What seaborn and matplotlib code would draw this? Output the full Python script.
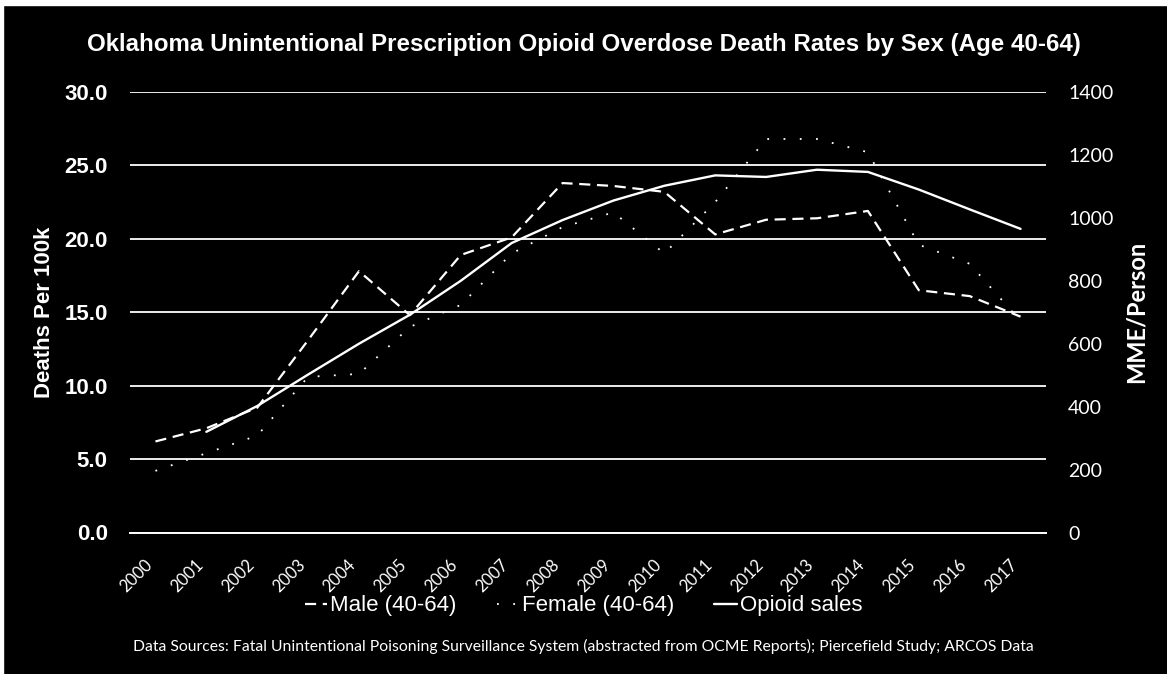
import matplotlib
matplotlib.use("Agg")
import matplotlib.pyplot as plt
from matplotlib.ticker import FixedLocator
import pandas as pd
import seaborn as sns

# Death rates per 100k, age 40-64
years = list(range(2000, 2018))
male_rate = [6.2, 7.1, 8.5, 13.1, 17.8, 14.8, 18.9, 20.1, 23.8, 23.6,
             23.2, 20.3, 21.3, 21.4, 21.9, 16.5, 16.1, 14.7]
female_rate = [4.2, 5.4, 6.6, 10.6, 10.8, 14.0, 15.5, 19.0, 20.8, 21.8,
               19.0, 22.5, 26.8, 26.8, 25.9, 19.6, 18.3, 14.4]

# Opioid sales, MME per person
sales_years = list(range(2001, 2018))
opioid_mme = [320, 402, 502, 600, 692, 800, 920, 993, 1055, 1102,
              1135, 1130, 1153, 1146, 1090, 1027, 965]

left_ticks = [0, 5, 10, 15, 20, 25, 30]
right_ticks = [0, 200, 400, 600, 800, 1000, 1200, 1400]

title = "Oklahoma Unintentional Prescription Opioid Overdose Death Rates by Sex (Age 40-64)"
source_note = ("Data Sources: Fatal Unintentional Poisoning Surveillance System "
               "(abstracted from OCME Reports); Piercefield Study; ARCOS Data")

rates = pd.DataFrame({"year": years, "male": male_rate, "female": female_rate})
sales = pd.DataFrame({"year": sales_years, "mme": opioid_mme})

sns.set_theme(style="dark")
plt.rcParams.update({
    "figure.facecolor": "black",
    "axes.facecolor": "black",
    "savefig.facecolor": "black",
    "text.color": "white",
    "axes.labelcolor": "white",
    "xtick.color": "white",
    "ytick.color": "white",
})
plt.rcParams["font.family"] = ["Liberation Sans", "DejaVu Sans"]
humanist = ["Lato", "DejaVu Sans"]

W, H = 1167, 674
fig = plt.figure(figsize=(W / 100, H / 100), dpi=100)

# thin light frame along the top and left edges
fig.patches.append(plt.Rectangle((0, 1 - 5 / H), 1, 5 / H, transform=fig.transFigure,
                                 color="white", zorder=0))
fig.patches.append(plt.Rectangle((0, 0), 3 / W, 1, transform=fig.transFigure,
                                 color="white", zorder=0))

ax = fig.add_axes([130 / W, 1 - 532.5 / H, (1046 - 130) / W, (532.5 - 92) / H])
ax.set_facecolor("black")

sns.lineplot(data=rates, x="year", y="male", ax=ax, color="white", lw=1.6,
             linestyle=(0, (5, 3)), label="Male (40-64)", legend=False, zorder=3)
sns.lineplot(data=rates, x="year", y="female", ax=ax, color="white", lw=1.3,
             linestyle=(0, (1, 8)), label="Female (40-64)", legend=False, zorder=3)

ax2 = ax.twinx()
sns.lineplot(data=sales, x="year", y="mme", ax=ax2, color="white", lw=1.7,
             label="Opioid sales", legend=False, zorder=3)

# left axis
ax.set_xlim(1999.5, 2017.5)
ax.set_ylim(0, 30)
ax.set_yticks(left_ticks)
ax.set_yticklabels([f"{t:.1f}" for t in left_ticks], fontsize=16, fontweight="bold")
ax.tick_params(axis="y", length=0, pad=16)
ax.set_ylabel("Deaths Per 100k", fontsize=16, fontweight="bold", labelpad=7)
ax.yaxis.grid(True, color="white", lw=1.3)
ax.xaxis.grid(False)
ax.set_axisbelow(True)

# category axis with marks between years
ax.set_xticks(years)
ax.set_xticklabels([str(y) for y in years], rotation=45, ha="right",
                   fontsize=12, family=humanist)
ax.tick_params(axis="x", which="major", length=0, pad=17)
ax.xaxis.set_minor_locator(FixedLocator([y - 0.5 for y in years] + [2017.5]))
ax.tick_params(axis="x", which="minor", length=5, width=1.2, color="white", direction="out")
ax.set_xlabel("")

for side in ["top", "right", "left"]:
    ax.spines[side].set_visible(False)
ax.spines["bottom"].set_color("white")
ax.spines["bottom"].set_linewidth(1.4)

# right axis
ax2.set_ylim(0, 1400)
ax2.set_yticks(right_ticks)
ax2.set_yticklabels([str(t) for t in right_ticks], fontsize=14, family=humanist)
ax2.tick_params(axis="y", length=0, pad=16)
ax2.set_ylabel("MME/Person", fontsize=17, fontweight="bold", family=humanist,
               labelpad=8)
ax2.grid(False)
for side in ["top", "right", "left", "bottom"]:
    ax2.spines[side].set_visible(False)

fig.text(0.5, 1 - 45 / H, title, ha="center", va="center", fontsize=17.4,
         fontweight="bold")

handles = ax.get_lines()[:2] + ax2.get_lines()[:1]
labels = ["Male (40-64)", "Female (40-64)", "Opioid sales"]
fig.legend(handles, labels, loc="center", bbox_to_anchor=(0.5, 1 - 606 / H),
           ncol=3, frameon=False, fontsize=16, handlelength=1.0,
           handletextpad=0.15, columnspacing=1.8, labelcolor="white")

fig.text(0.5, 1 - 646 / H, source_note, ha="center", va="center", fontsize=11.3,
         family=humanist)

fig.savefig("out.png", dpi=100, facecolor="black")
